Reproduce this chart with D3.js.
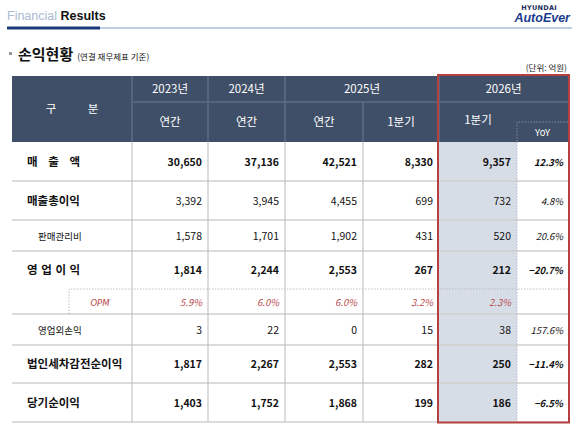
<!DOCTYPE html>
<html>
<head>
<meta charset="utf-8">
<script src="https://cdn.jsdelivr.net/npm/d3@7"></script>
<style>
  html, body { margin: 0; padding: 0; background: #fff; }
  svg { display: block; font-family: 'Noto Sans CJK KR', 'Noto Sans', sans-serif; }
</style>
</head>
<body>
<svg id="table" width="580" height="431"></svg>
<script>
// row labels and column headers
const rowLabels = ['매 출 액', '매출총이익', '판매관리비', '영 업 이 익', 'OPM', '영업외손익', '법인세차감전순이익', '당기순이익'];
const years = ['2023년', '2024년', '2025년', '2026년'];
const periods = ['연간', '연간', '연간', '1분기', '1분기'];

// values (억원), OPM row in %
const annual2023 = [30650, 3392, 1578, 1814, 5.9, 3, 1817, 1403];
const annual2024 = [37136, 3945, 1701, 2244, 6.0, 22, 2267, 1752];
const annual2025 = [42521, 4455, 1902, 2553, 6.0, 0, 2553, 1868];
const q1_2025 = [8330, 699, 431, 267, 3.2, 15, 282, 199];
const q1_2026 = [9357, 732, 520, 212, 2.3, 38, 250, 186];
const yoy = [12.3, 4.8, 20.6, -20.7, null, 157.6, -11.4, -6.5];

const svg = d3.select('#table');

// layout: column edges and row edges as piecewise scales
const x = d3.scaleLinear()
  .domain(d3.range(8))
  .range([12, 132, 208, 285, 363, 439, 517, 568]);
const y = d3.scaleLinear()
  .domain(d3.range(9))
  .range([142, 181, 220, 251, 289, 314, 345, 383, 422]);
const headTop = 76, headMid = 102, headBot = 142;

const headFill = '#3f4f67',
  headLine = '#5d6d85',
  gridColor = '#b9b9b9',
  rowLine = '#cfcfcf',
  hiFill = '#d7dde7',
  red = '#b5403f',
  opmColor = '#b8484a';

const boldRows = new Set([0, 3, 6, 7]);
const fmt = d3.format(',');
const pct = d => d3.format('.1f')(d) + '%';

// ---- page title ----
const title = svg.append('text').attr('x', 7).attr('y', 20).attr('font-size', 12.5)
  .attr('font-family', 'Liberation Sans, Arial, sans-serif');
title.append('tspan').attr('fill', '#a9bad2').attr('font-weight', 300).text('Financial ');
title.append('tspan').attr('fill', '#111').attr('font-weight', 'bold').text('Results');

svg.append('line').attr('x1', 100).attr('x2', 572).attr('y1', 28).attr('y2', 28)
  .attr('stroke', '#7f9ccb').attr('stroke-width', 1);
svg.append('rect').attr('x', 7).attr('y', 26.5).attr('width', 93).attr('height', 3).attr('fill', '#1d3b7a');

svg.append('text').attr('x', 557).attr('y', 10).attr('text-anchor', 'end')
  .attr('font-size', 6.5).attr('font-weight', 'bold').attr('fill', '#1a2a5a')
  .attr('font-family', 'DejaVu Sans, sans-serif').attr('letter-spacing', 0.3).text('HYUNDAI');
svg.append('text').attr('x', 570).attr('y', 22).attr('text-anchor', 'end')
  .attr('font-size', 12.5).attr('font-weight', 'bold').attr('font-style', 'italic').attr('fill', '#1b3b8d')
  .attr('font-family', 'Liberation Sans, Arial, sans-serif').text('AutoEver');

// ---- section heading ----
svg.append('rect').attr('x', 9).attr('y', 52).attr('width', 3).attr('height', 3).attr('fill', '#999');
const sect = svg.append('text').attr('x', 18).attr('y', 60).attr('fill', '#111');
sect.append('tspan').attr('font-size', 15).attr('font-weight', 'bold').text('손익현황');
sect.append('tspan').attr('font-size', 8.5).attr('dx', 4).text('(연결 재무제표 기준)');

svg.append('text').attr('x', 567).attr('y', 71).attr('text-anchor', 'end')
  .attr('font-size', 8.5).attr('fill', '#222').text('(단위: 억원)');

// ---- header block ----
svg.append('rect').attr('x', x(0)).attr('y', headTop).attr('width', x(7) - x(0))
  .attr('height', headBot - headTop).attr('fill', headFill);

// header horizontal divider (not through 구분)
svg.append('line').attr('x1', x(1)).attr('x2', x(7)).attr('y1', headMid).attr('y2', headMid)
  .attr('stroke', headLine).attr('stroke-width', 1.5);

// header verticals
const headV = [
  { c: 1, y1: headTop }, { c: 2, y1: headTop }, { c: 3, y1: headTop },
  { c: 4, y1: headMid }, { c: 5, y1: headTop }
];
svg.append('g').selectAll('line').data(headV).join('line')
  .attr('x1', d => x(d.c)).attr('x2', d => x(d.c))
  .attr('y1', d => d.y1).attr('y2', headBot)
  .attr('stroke', headLine).attr('stroke-width', 1.5);

// YoY sub box (dotted)
svg.append('path')
  .attr('d', `M${x(7)},122 H${x(6)} V${headBot}`)
  .attr('fill', 'none').attr('stroke', '#7e8ca0').attr('stroke-dasharray', '1.5,1.5');

// year labels
const yearSpans = [[1, 2], [2, 3], [3, 5], [5, 7]];
svg.append('g').selectAll('text').data(years).join('text')
  .attr('x', (d, i) => (x(yearSpans[i][0]) + x(yearSpans[i][1])) / 2)
  .attr('y', (headTop + headMid) / 2 + 4)
  .attr('text-anchor', 'middle').attr('fill', '#fff').attr('font-size', 11.5)
  .text(d => d);

// period labels
svg.append('g').selectAll('text').data(periods).join('text')
  .attr('x', (d, i) => (x(i + 1) + x(i + 2)) / 2)
  .attr('y', (d, i) => i === 4 ? 124 : 126)
  .attr('text-anchor', 'middle').attr('fill', '#fff').attr('font-size', 11.5)
  .text(d => d);

svg.append('text').attr('x', (x(6) + x(7)) / 2).attr('y', 136).attr('text-anchor', 'middle')
  .attr('fill', '#fff').attr('font-size', 9.5).text('YoY');

// 구 분 : two glyphs spread across the first column
const midFirst = (x(0) + x(1)) / 2;
svg.append('g').selectAll('text').data(['구', '분']).join('text')
  .attr('x', (d, i) => midFirst + (i === 0 ? -21 : 21))
  .attr('y', (headTop + headBot) / 2 + 4)
  .attr('text-anchor', 'middle').attr('fill', '#fff').attr('font-size', 11.5)
  .text(d => d);

// ---- body ----
// highlighted column
svg.append('rect').attr('x', x(5)).attr('y', y(0)).attr('width', x(6) - x(5))
  .attr('height', y(8) - y(0)).attr('fill', hiFill);

// row separators (the line under 영업이익 only spans the OPM part, dotted)
const rowLinesData = d3.range(1, 9).filter(i => i !== 4);
svg.append('g').selectAll('line').data(rowLinesData).join('line')
  .attr('x1', x(0)).attr('x2', x(7))
  .attr('y1', d => y(d)).attr('y2', d => y(d))
  .attr('stroke', rowLine).attr('stroke-width', 1.6);

svg.append('path')
  .attr('d', `M69,${y(5)} V${y(4)} H${x(7)}`)
  .attr('fill', 'none').attr('stroke', '#b0b0b0').attr('stroke-width', 0.8)
  .attr('stroke-dasharray', '1.5,1.5');

// body verticals
svg.append('g').selectAll('line').data([1, 2, 3, 4]).join('line')
  .attr('x1', d => x(d)).attr('x2', d => x(d))
  .attr('y1', y(0)).attr('y2', y(8))
  .attr('stroke', gridColor).attr('stroke-width', 1);
svg.append('line').attr('x1', x(6)).attr('x2', x(6)).attr('y1', y(0)).attr('y2', y(8))
  .attr('stroke', '#aab3c2').attr('stroke-width', 0.8).attr('stroke-dasharray', '1.5,1.5');

// row labels
const labelStyle = [
  { dx: 27, size: 11.5, bold: true, ls: 4 },
  { dx: 27, size: 11.5, bold: true, ls: 0 },
  { dx: 38, size: 9.5, bold: false, ls: 0 },
  { dx: 27, size: 11.5, bold: true, ls: 0.5 },
  null,
  { dx: 38, size: 9.5, bold: false, ls: 0 },
  { dx: 27, size: 11.5, bold: true, ls: 0 },
  { dx: 27, size: 11.5, bold: true, ls: 0 }
];
svg.append('g').selectAll('text').data(rowLabels).join('text')
  .attr('x', (d, i) => i === 4 ? 100 : labelStyle[i].dx)
  .attr('y', (d, i) => (y(i) + y(i + 1)) / 2 + 4)
  .attr('text-anchor', (d, i) => i === 4 ? 'middle' : 'start')
  .attr('font-size', (d, i) => i === 4 ? 8.5 : labelStyle[i].size)
  .attr('font-weight', (d, i) => i !== 4 && labelStyle[i].bold ? 'bold' : 'normal')
  .attr('font-style', (d, i) => i === 4 ? 'italic' : 'normal')
  .attr('font-family', (d, i) => i === 4 ? 'DejaVu Sans, sans-serif' : null)
  .attr('letter-spacing', (d, i) => i === 4 ? 0 : labelStyle[i].ls)
  .attr('fill', (d, i) => i === 4 ? opmColor : '#111')
  .text(d => d);

// value columns
const valueCols = [annual2023, annual2024, annual2025, q1_2025, q1_2026];
valueCols.forEach((col, c) => {
  svg.append('g').selectAll('text').data(col).join('text')
    .attr('x', x(c + 2) - 6)
    .attr('y', (d, i) => (y(i) + y(i + 1)) / 2 + 4)
    .attr('text-anchor', 'end')
    .attr('font-size', (d, i) => i === 4 ? 9.5 : 10.5)
    .attr('font-weight', (d, i) => boldRows.has(i) ? 'bold' : 'normal')
    .attr('font-style', (d, i) => i === 4 ? 'italic' : 'normal')
    .attr('fill', (d, i) => i === 4 ? opmColor : '#111')
    .text((d, i) => i === 4 ? pct(d) : fmt(d));
});

// YoY column
svg.append('g').selectAll('text').data(yoy).join('text')
  .attr('x', x(7) - 5)
  .attr('y', (d, i) => (y(i) + y(i + 1)) / 2 + 4)
  .attr('text-anchor', 'end')
  .attr('font-size', 9.5)
  .attr('font-style', 'italic')
  .attr('font-weight', (d, i) => boldRows.has(i) ? 'bold' : 'normal')
  .attr('fill', '#111')
  .text(d => d == null ? '' : pct(d));

// red outline around 2026
svg.append('rect').attr('x', x(5) - 1).attr('y', headTop - 1)
  .attr('width', x(7) - x(5) + 2).attr('height', y(8) - headTop + 1.5)
  .attr('fill', 'none').attr('stroke', red).attr('stroke-width', 2);
</script>
</body>
</html>
